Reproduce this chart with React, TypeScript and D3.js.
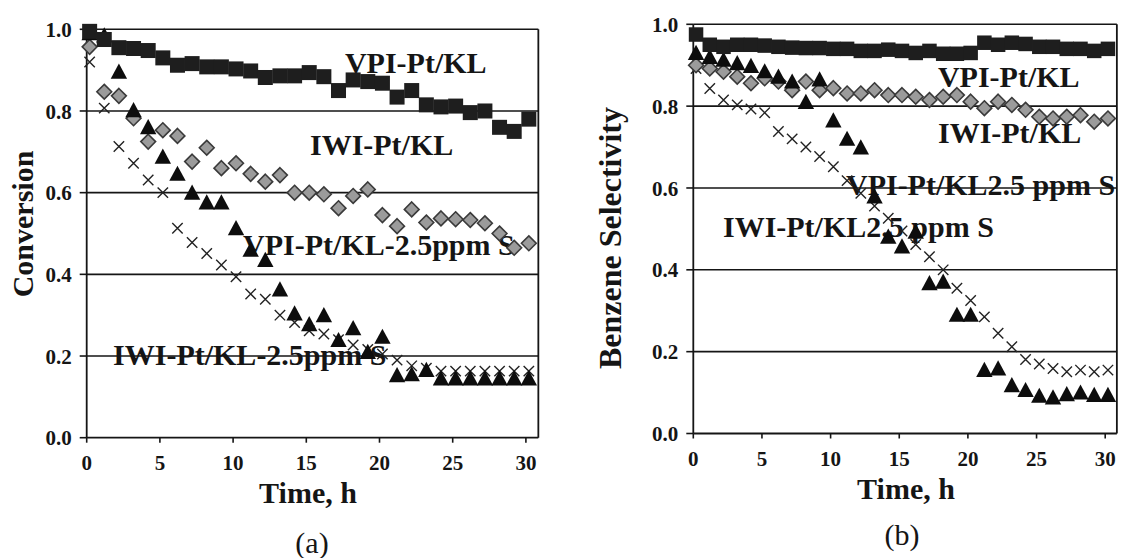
import React from 'react';
import * as d3 from 'd3';

// sampling times (h), same for every series
const hours = [0.2, 1.2, 2.2, 3.2, 4.2, 5.2, 6.2, 7.2, 8.2, 9.2, 10.2, 11.2, 12.2, 13.2, 14.2, 15.2,
  16.2, 17.2, 18.2, 19.2, 20.2, 21.2, 22.2, 23.2, 24.2, 25.2, 26.2, 27.2, 28.2, 29.2, 30.2];

// (a) conversion
const convVPI = [0.995, 0.975, 0.955, 0.953, 0.948, 0.93, 0.912, 0.916, 0.908, 0.908, 0.903, 0.898, 0.882, 0.886, 0.886, 0.894,
  0.884, 0.85, 0.876, 0.872, 0.868, 0.834, 0.85, 0.815, 0.81, 0.812, 0.796, 0.8, 0.76, 0.75, 0.78];
const convIWI = [0.957, 0.847, 0.837, 0.782, 0.725, 0.753, 0.739, 0.676, 0.71, 0.66, 0.672, 0.646, 0.627, 0.643, 0.6, 0.6,
  0.596, 0.562, 0.592, 0.608, 0.545, 0.518, 0.559, 0.527, 0.537, 0.535, 0.533, 0.525, 0.5, 0.465, 0.476];
const convVPIS = [0.99, 0.985, 0.896, 0.802, 0.76, 0.688, 0.646, 0.6, 0.576, 0.576, 0.513, 0.46, 0.435, 0.363, 0.304, 0.278,
  0.3, 0.239, 0.268, 0.21, 0.247, 0.153, 0.155, 0.166, 0.145, 0.145, 0.145, 0.145, 0.145, 0.145, 0.145];
const convIWIS = [0.92, 0.807, 0.713, 0.672, 0.631, 0.6, 0.513, 0.478, 0.451, 0.423, 0.394, 0.352, 0.339, 0.3, 0.282, 0.262,
  0.254, 0.24, 0.227, 0.216, 0.205, 0.19, 0.176, 0.17, 0.163, 0.163, 0.163, 0.163, 0.163, 0.163, 0.163];

// (b) benzene selectivity
const selVPI = [0.975, 0.95, 0.945, 0.95, 0.95, 0.948, 0.945, 0.943, 0.942, 0.942, 0.94, 0.94, 0.935, 0.935, 0.938, 0.935,
  0.93, 0.935, 0.928, 0.928, 0.93, 0.955, 0.95, 0.955, 0.952, 0.945, 0.945, 0.94, 0.94, 0.935, 0.94];
const selIWI = [0.9, 0.892, 0.884, 0.872, 0.856, 0.868, 0.86, 0.839, 0.86, 0.839, 0.844, 0.831, 0.831, 0.839, 0.827, 0.827,
  0.823, 0.815, 0.823, 0.827, 0.811, 0.795, 0.811, 0.803, 0.791, 0.774, 0.77, 0.774, 0.778, 0.762, 0.77];
const selVPIS = [0.93, 0.92, 0.913, 0.905, 0.898, 0.885, 0.872, 0.86, 0.81, 0.865, 0.765, 0.72, 0.699, 0.579, 0.481, 0.457,
  0.493, 0.367, 0.371, 0.29, 0.29, 0.155, 0.159, 0.118, 0.106, 0.092, 0.088, 0.096, 0.1, 0.094, 0.094];
const selIWIS = [0.892, 0.843, 0.815, 0.803, 0.793, 0.784, 0.738, 0.72, 0.7, 0.677, 0.652, 0.618, 0.587, 0.556, 0.526, 0.495,
  0.462, 0.432, 0.4, 0.355, 0.325, 0.285, 0.245, 0.212, 0.181, 0.17, 0.159, 0.151, 0.155, 0.151, 0.155];

const xTicks = [0, 5, 10, 15, 20, 25, 30];
const yTicks = [0, 0.2, 0.4, 0.6, 0.8, 1.0];

const FONT = '"Liberation Serif", "Times New Roman", serif';
const INK = '#151515';

function Panel(props) {
  const { x0, x1, y0, y1, xMax, sq, di, tri, cr, labels, size } = props;
  const x = d3.scaleLinear().domain([0, xMax]).range([x0, x1]);
  const y = d3.scaleLinear().domain([0, 1]).range([y0, y1]);
  const h = size / 2;
  const fmt = d3.format('.1f');

  return (
    <g>
      {/* series names, under the grid and the markers */}
      {labels.map((l) => (
        <text key={l.text} x={x(l.t)} y={y(l.v)} fontFamily={FONT} fontWeight="bold" fontSize={30} fill={INK}>
          {l.text}
        </text>
      ))}

      {yTicks.map((t) => (
        <g key={t}>
          {t > 0 && <line x1={x(0)} x2={x(xMax)} y1={y(t)} y2={y(t)} stroke={INK} strokeWidth={1.6} />}
          <line x1={x(0) - 7} x2={x(0)} y1={y(t)} y2={y(t)} stroke={INK} strokeWidth={1.6} />
          <text x={x(0) - 15} y={y(t)} dy="0.36em" textAnchor="end" fontFamily={FONT} fontWeight="bold"
            fontSize={21} fill={INK}>{fmt(t)}</text>
        </g>
      ))}
      {xTicks.map((t) => (
        <g key={t}>
          <line x1={x(t)} x2={x(t)} y1={y(0)} y2={y(0) + 5} stroke={INK} strokeWidth={1.6} />
          <text x={x(t)} y={y(0) + 32} textAnchor="middle" fontFamily={FONT} fontWeight="bold"
            fontSize={21} fill={INK}>{t}</text>
        </g>
      ))}
      {/* frame */}
      <line x1={x(0)} x2={x(0)} y1={y(1)} y2={y(0)} stroke={INK} strokeWidth={1.8} />
      <line x1={x(0)} x2={x(xMax)} y1={y(0)} y2={y(0)} stroke={INK} strokeWidth={1.8} />
      <line x1={x(xMax)} x2={x(xMax)} y1={y(1)} y2={y(0)} stroke={INK} strokeWidth={1.8} />

      {/* crosses */}
      {cr.map((v, i) => {
        const cx = x(hours[i]), cy = y(v), r = 5.2;
        return (
          <path key={'c' + i} d={`M${cx - r},${cy - r}L${cx + r},${cy + r}M${cx - r},${cy + r}L${cx + r},${cy - r}`}
            stroke="#222" strokeWidth={1.4} fill="none" />
        );
      })}
      {/* diamonds */}
      {di.map((v, i) => {
        const cx = x(hours[i]), cy = y(v), r = 7.4;
        return (
          <path key={'d' + i} d={`M${cx},${cy - r}L${cx + r},${cy}L${cx},${cy + r}L${cx - r},${cy}Z`}
            fill="#9b9b9b" stroke="#3a3a3a" strokeWidth={1.6} />
        );
      })}
      {/* triangles */}
      {tri.map((v, i) => {
        const cx = x(hours[i]), cy = y(v), r = 8.2;
        return (
          <path key={'t' + i} d={`M${cx},${cy - r}L${cx + r},${cy + r * 0.85}L${cx - r},${cy + r * 0.85}Z`}
            fill="#0d0d0d" />
        );
      })}
      {/* squares */}
      {sq.map((v, i) => (
        <rect key={'s' + i} x={x(hours[i]) - h} y={y(v) - h} width={size} height={size} fill="#1e1e1e" />
      ))}
    </g>
  );
}

export default function App() {
  return (
    <svg width={1121} height={558} style={{ position: 'absolute', left: 0, top: 0, background: '#fff' }}>
      <rect width={1121} height={558} fill="#fff" />
      <Panel
        x0={86.7} x1={86.7 + 14.64 * 30.85} y0={437.7} y1={29.3} xMax={30.85} size={15}
        sq={convVPI} di={convIWI} tri={convVPIS} cr={convIWIS}
        labels={[
          { text: 'VPI-Pt/KL', t: 17.64, v: 0.892 },
          { text: 'IWI-Pt/KL', t: 15.25, v: 0.692 },
          { text: 'VPI-Pt/KL-2.5ppm S', t: 10.68, v: 0.447 },
          { text: 'IWI-Pt/KL-2.5ppm S', t: 1.8, v: 0.178 },
        ]}
      />
      <Panel
        x0={693.3} x1={693.3 + 13.73 * 30.85} y0={433.5} y1={24.3} xMax={30.85} size={14.5}
        sq={selVPI} di={selIWI} tri={selVPIS} cr={selIWIS}
        labels={[
          { text: 'VPI-Pt/KL', t: 17.82, v: 0.8475 },
          { text: 'IWI-Pt/KL', t: 17.82, v: 0.709 },
          { text: 'VPI-Pt/KL2.5 ppm S', t: 11.12, v: 0.583 },
          { text: 'IWI-Pt/KL2.5 ppm S', t: 2.16, v: 0.481 },
        ]}
      />

      {/* axis titles */}
      <text transform="translate(33,224) rotate(-90)" textAnchor="middle" fontFamily={FONT} fontWeight="bold"
        fontSize={30} fill={INK}>Conversion</text>
      <text transform="translate(621,238) rotate(-90)" textAnchor="middle" fontFamily={FONT} fontWeight="bold"
        fontSize={31} fill={INK} textLength={262} lengthAdjust="spacingAndGlyphs">Benzene Selectivity</text>
      <text x={308} y={503} textAnchor="middle" fontFamily={FONT} fontWeight="bold" fontSize={30} fill={INK}>Time, h</text>
      <text x={906} y={499} textAnchor="middle" fontFamily={FONT} fontWeight="bold" fontSize={30} fill={INK}>Time, h</text>
      <text x={312} y={553} textAnchor="middle" fontFamily={FONT} fontSize={30} fill={INK}>(a)</text>
      <text x={902} y={545} textAnchor="middle" fontFamily={FONT} fontSize={30} fill={INK}>(b)</text>
    </svg>
  );
}
